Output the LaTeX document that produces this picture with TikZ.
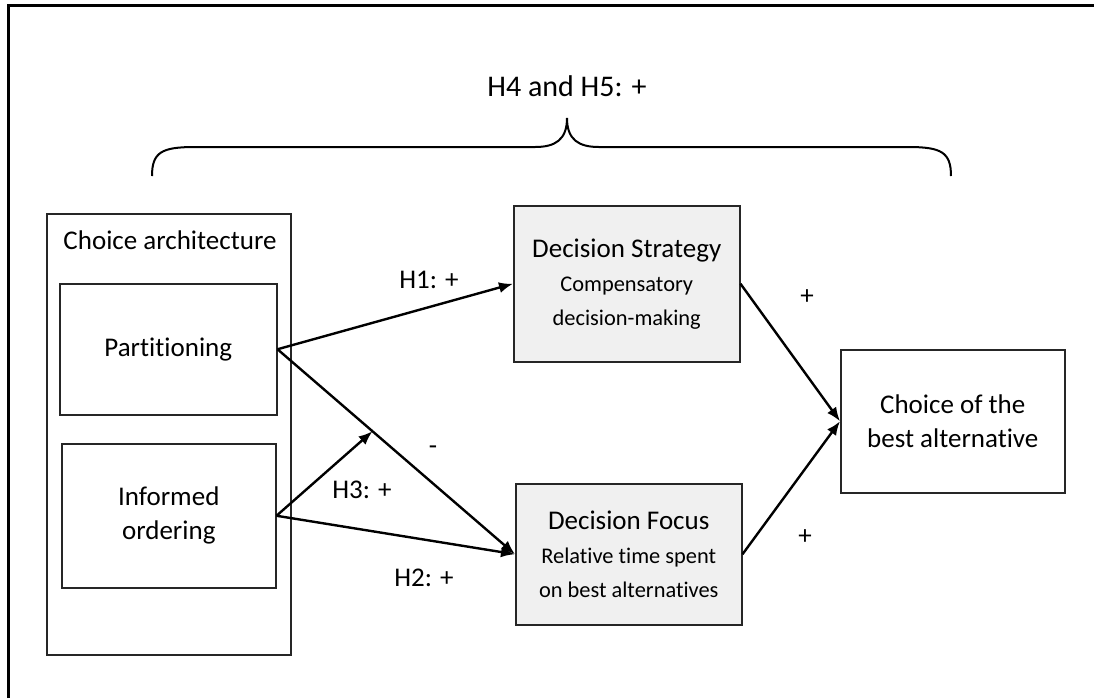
\documentclass[tikz,border=0pt]{standalone}
\usepackage{fontspec}
\setmainfont{Carlito}[Ligatures=NoCommon]
\usetikzlibrary{arrows.meta}

\newcommand{\subfont}{\fontsize{11.2}{15}\selectfont}
\tikzset{>={Latex[length=7pt,width=5.5pt]},every node/.style={font=\fontsize{13.5}{17}\selectfont},
  box/.style={draw=black!85,line width=0.75pt,inner sep=0pt,anchor=north west,align=center},
  grey/.style={box,fill=black!6},
  link/.style={->,line width=1.2pt}}

\begin{document}
\begin{tikzpicture}[x=0.5pt,y=-0.5pt]
    \useasboundingbox (0,0) rectangle (1094,698);
    \draw[line width=1.5pt] (8,698) -- (8,5) -- (1094,5);

    % boxes
    \node[box,minimum width=122pt,minimum height=220.5pt] (arch) at (46,213) {};
    \node (archlab) at (170,240) {Choice architecture};
    \node[box,minimum width=108.5pt,minimum height=65.5pt] (part) at (59,283) {Partitioning};
    \node[box,minimum width=107pt,minimum height=72pt] (inf) at (61,443) {Informed\\ordering};
    \node[grey,minimum width=113pt,minimum height=78pt] (ds) at (513,205)
        {Decision Strategy\\[0pt] \subfont Compensatory\\ \subfont decision-making};
    \node[grey,minimum width=113pt,minimum height=70.5pt] (df) at (515,483)
        {Decision Focus\\[0pt] \subfont Relative time spent\\ \subfont on best alternatives};
    \node[box,minimum width=112pt,minimum height=71.5pt] (best) at (840,349) {Choice of the\\best alternative};

    % arrows
    \draw[link] (part.east) -- (ds.west);
    \draw[link] (part.east) -- coordinate[pos=0.4] (mid) (df.west);
    \draw[link] (inf.east) -- (mid);
    \draw[link] (inf.east) -- (df.west);
    \foreach \from in {ds,df}
        \draw[link] (\from.east) -- (best.west);

    % labels
    \foreach \name/\x/\y/\txt in {h1/429/280/{H1: +},neg/433/450/{-},h3/362/490/{H3: +},h2/424/578/{H2: +},
        pa/807/297/{+},pb/805/537/{+}}
        \node (\name) at (\x,\y) {\txt};

    % brace
    \node[font=\fontsize{15}{18}\selectfont] (h45) at (567,86) {H4 and H5: +};
    \draw[line width=1pt] (152,176) .. controls (152,152) and (162,147) .. (195,147) -- (535,147)
        .. controls (555,147) and (567,140) .. (567,118) .. controls (567,140) and (579,147) .. (599,147)
        -- (908,147) .. controls (941,147) and (951,152) .. (951,176);
\end{tikzpicture}
\end{document}
